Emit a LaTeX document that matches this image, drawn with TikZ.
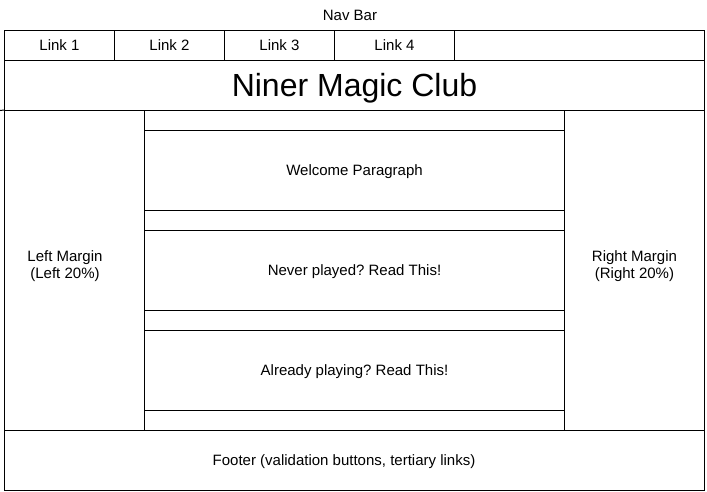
\documentclass[tikz,border=0pt]{standalone}
\usepackage{fontspec}
\setmainfont{Liberation Sans}
\frenchspacing
\begin{document}
\begin{tikzpicture}[x=1pt,y=-1pt,
  box/.style={draw=black, line width=1pt, inner sep=0pt, align=center,
    font=\fontsize{15}{17}\selectfont, text height=10.7pt, text depth=0pt},
  size/.style 2 args={minimum width=#1pt, minimum height=#2pt},
  title/.style={box, font=\fontsize{32}{36}\selectfont, text height=22.9pt},
  lbl/.style={inner sep=0pt, align=center, font=\fontsize{15}{17}\selectfont},
  caption/.style={lbl, text height=10.7pt, text depth=0pt},
  edge/.style={draw=black, line width=1pt}]
\useasboundingbox (0,0) rectangle (707,491);

% navigation bar
\node[caption] (navlbl) at (350,15) {Nav Bar};
\node[box, size={110}{30}] (link1) at (59.5,45.5) {Link 1};
\node[box, size={110}{30}] (link2) at (169.5,45.5) {Link 2};
\node[box, size={110}{30}] (link3) at (279.5,45.5) {Link 3};
\node[box, size={120}{30}] (link4) at (394.5,45.5) {Link 4};
\node[box, size={250}{30}] (navrest) at (579.5,45.5) {};

% header
\node[title, size={700}{50}] (header) at (354.5,85.5) {Niner Magic Club};

% side margins
\node[box, size={140}{320}] (left) at (74.5,270.5) {};
\node[box, size={140}{320}] (right) at (634.5,270.5) {};
\node[lbl] (leftlbl) at (65,266.5) {Left Margin\\(Left 20\%)};
\node[lbl] (rightlbl) at (634.5,266.5) {Right Margin\\(Right 20\%)};
\coordinate (rim) at (0,110.5);
\draw[edge] (rim) -- (left.north west);

% central column
\node[box, size={420}{20}] (gap1) at (354.5,120.5) {};
\node[box, size={420}{80}] (welcome) at (354.5,170.5) {Welcome Paragraph};
\node[box, size={420}{20}] (gap2) at (354.5,220.5) {};
\node[box, size={420}{80}] (never) at (354.5,270.5) {Never played? Read This!};
\node[box, size={420}{20}] (gap3) at (354.5,320.5) {};
\node[box, size={420}{80}] (already) at (354.5,370.5) {Already playing? Read This!};
\node[box, size={420}{20}] (gap4) at (354.5,420.5) {};

% footer
\node[box, size={700}{59.5}] (footer) at (354.5,460.25) {};
\node[caption] (footerlbl) at (344,460.5) {Footer (validation buttons, tertiary links)};
\end{tikzpicture}
\end{document}
